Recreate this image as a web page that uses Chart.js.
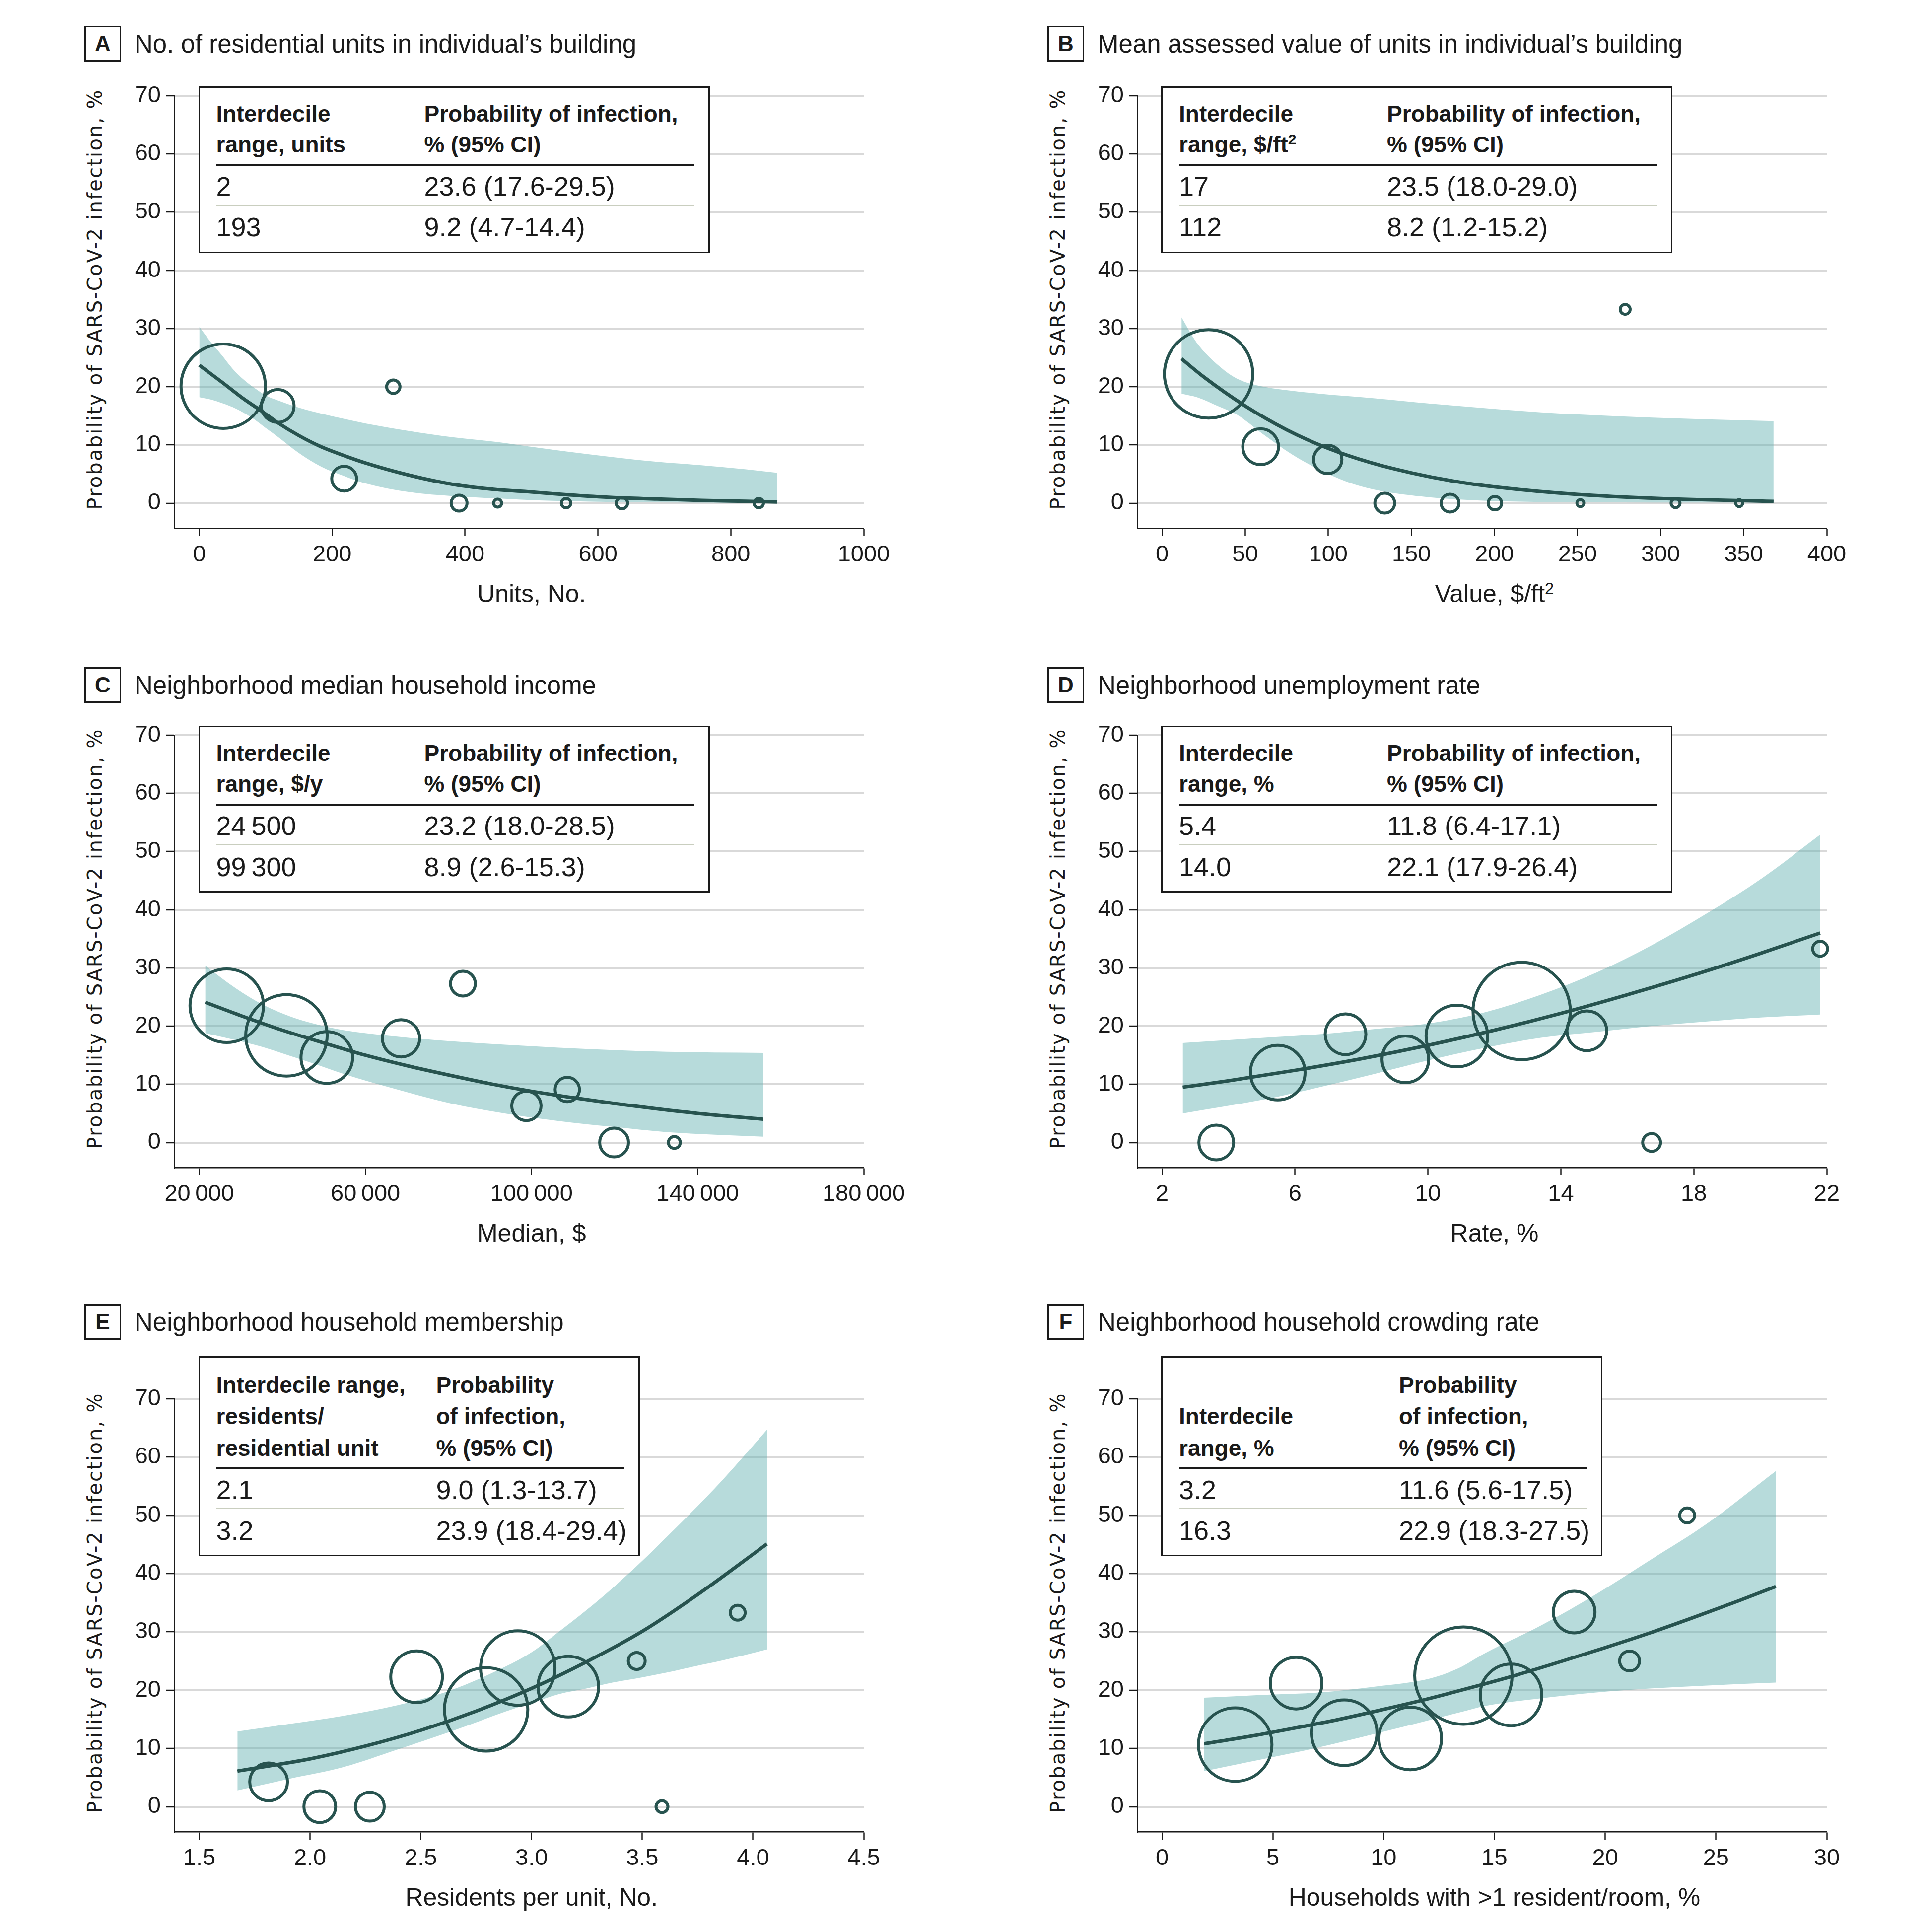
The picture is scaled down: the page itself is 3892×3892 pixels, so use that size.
<!DOCTYPE html>
<html>
<head>
<meta charset="utf-8">
<script src="https://cdn.jsdelivr.net/npm/chart.js@4.4.1/dist/chart.umd.min.js"></script>
<style>
html, body { margin: 0; padding: 0; background: #fff; }
#page { position: relative; width: 3892px; height: 3892px; overflow: hidden; background: #fff;
        font-family: 'Liberation Sans', Arial, sans-serif; color: #1a1a1a; }
canvas { position: absolute; }
.t { position: absolute; white-space: nowrap; }
.sup { font-size: 0.66em; position: relative; top: -0.5em; }
.tbl { position: absolute; box-sizing: border-box; border: 3px solid #1a1a1a; background: #fff; }
.box { position: absolute; box-sizing: border-box; border: 3px solid #1a1a1a; background: #fff;
       font-weight: bold; font-size: 44px; text-align: center; line-height: 66px; }
</style>
</head>
<body>
<div id="page"></div>
<script>
// ---- data ----

// A: residential units
const aTicks = [0, 200, 400, 600, 800, 1000];
const aBubX = [36, 118, 292, 218, 391, 449, 552, 636, 842];
const aBubY = [20.1, 16.7, 20.0, 4.2, 0, 0, 0, 0, 0];
const aBubR = [85, 33, 13.5, 25, 16, 8, 9.5, 11.5, 9.5];
const aFitX = [0, 34, 67, 94, 117, 150, 183, 217, 250, 316, 383, 449, 490, 557, 623, 689, 756, 823, 870];
const aFitY = [23.7, 20.8, 17.9, 15.8, 13.9, 11.6, 9.7, 8.2, 6.9, 4.8, 3.2, 2.3, 2.0, 1.4, 0.95, 0.7, 0.46, 0.31, 0.2];
const aBandX = [0, 17, 34, 50, 67, 84, 100, 117, 150, 183, 217, 250, 316, 383, 449, 505, 557, 623, 689, 756, 823, 870];
const aUpper = [30.3, 27.7, 25.4, 23.1, 21.2, 19.7, 18.5, 17.7, 16.4, 15.4, 14.5, 13.7, 12.4, 11.3, 10.5, 9.6, 8.8, 7.9, 7.1, 6.5, 5.8, 5.2];
const aLower = [18.2, 17.8, 17.2, 16.5, 15.5, 14.3, 12.9, 11.5, 8.6, 6.3, 4.7, 3.4, 1.9, 1.2, 0.8, 0.5, 0.35, 0.2, 0.12, 0.08, 0.04, 0.0];

// B: assessed value
const bTicks = [0, 50, 100, 150, 200, 250, 300, 350, 400];
const bBubX = [28, 59.3, 99.7, 134, 173.3, 200.3, 251.7, 278.7, 309, 347.3];
const bBubY = [22.2, 9.7, 7.5, 0, 0, 0, 0, 33.3, 0, 0];
const bBubR = [89, 36, 28.5, 20, 18, 13.5, 7, 10, 9, 7];
const bFitX = [11.7, 25, 50, 75, 100, 125, 150, 175, 200, 250, 300, 368];
const bFitY = [24.8, 21.7, 16.7, 12.6, 9.4, 7.0, 5.2, 3.8, 2.8, 1.5, 0.8, 0.3];
const bBandX = [11.7, 21, 35, 45, 61, 78, 95, 111, 128, 161, 195, 228, 261, 295, 328, 368];
const bUpper = [31.9, 27.5, 23.4, 21.4, 20.0, 19.3, 18.8, 18.4, 18.0, 17.1, 16.3, 15.6, 15.1, 14.7, 14.4, 14.1];
const bLower = [18.8, 18.2, 16.5, 15.2, 11.8, 8.4, 5.7, 3.7, 2.3, 1.0, 0.4, 0.2, 0.15, 0.1, 0.1, 0.1];

// C: median household income
const cTicks = [20000, 60000, 100000, 140000, 180000];
const cBubX = [26607, 40987, 50703, 68581, 83480, 98766, 108612, 119883, 134392];
const cBubY = [23.5, 18.4, 14.6, 17.9, 27.3, 6.3, 9.1, 0, 0];
const cBubR = [74, 82, 52, 37.5, 25, 29.5, 24.5, 29, 12];
const cFitX = [21425, 30000, 40000, 50000, 60000, 70000, 80000, 90000, 100000, 110000, 120000, 130000, 140000, 155768];
const cFitY = [24.1, 21.8, 19.3, 17.1, 15.0, 13.2, 11.6, 10.1, 8.8, 7.7, 6.7, 5.8, 5.0, 4.0];
const cBandX = [21425, 28800, 35300, 41760, 48240, 54720, 67670, 80630, 93580, 106540, 119490, 132450, 155768];
const cUpper = [30.4, 26.5, 23.7, 21.7, 20.3, 19.3, 18.2, 17.4, 16.8, 16.3, 15.9, 15.6, 15.4];
const cLower = [18.8, 17.6, 16.4, 14.9, 13.4, 11.8, 9.1, 6.7, 5.0, 3.7, 2.7, 1.8, 1.0];

// D: unemployment rate
const dTicks = [2, 6, 10, 14, 18, 22];
const dBubX = [3.63, 5.48, 7.52, 9.32, 10.87, 12.82, 14.78, 16.73, 21.8];
const dBubY = [0, 12.0, 18.6, 14.3, 18.3, 22.6, 19.2, 0, 33.3];
const dBubR = [35, 55, 41, 47, 62, 98, 40, 18, 15];
const dFitX = [2.62, 4, 6, 8, 10, 12, 14, 16, 18, 20, 21.8];
const dFitY = [9.5, 10.6, 12.4, 14.4, 16.7, 19.3, 22.2, 25.4, 28.8, 32.5, 36.0];
const dBandX = [2.62, 5.07, 6.73, 8.4, 10.07, 11.73, 13.4, 15.07, 16.73, 18.4, 20.07, 21.8];
const dUpper = [17.1, 18.0, 18.6, 19.5, 20.5, 22.4, 25.4, 29.2, 33.9, 39.4, 45.5, 52.9];
const dLower = [5.0, 7.4, 9.5, 11.8, 14.2, 16.3, 18.0, 19.0, 20.0, 20.8, 21.5, 22.0];

// E: household membership
const eTicks = [1.5, 2.0, 2.5, 3.0, 3.5, 4.0, 4.5];
const eBubX = [1.813, 2.044, 2.27, 2.481, 2.795, 2.938, 3.166, 3.475, 3.589, 3.931];
const eBubY = [4.25, 0, 0, 22.3, 16.7, 23.8, 20.6, 25.0, 0, 33.3];
const eBubR = [38, 32, 29, 52, 84, 75, 61, 17, 12, 15];
const eFitX = [1.672, 1.8, 2.0, 2.25, 2.5, 2.75, 3.0, 3.25, 3.5, 3.75, 4.063];
const eFitY = [6.1, 6.9, 8.2, 10.4, 13.1, 16.4, 20.3, 24.9, 30.1, 36.4, 45.1];
const eBandX = [1.672, 1.908, 2.151, 2.394, 2.637, 2.88, 3.0, 3.122, 3.25, 3.365, 3.5, 3.608, 3.75, 3.851, 4.063];
const eUpper = [12.9, 14.2, 15.6, 17.4, 20.0, 24.0, 26.5, 30.0, 33.8, 37.5, 42.2, 46.2, 51.6, 55.6, 64.7];
const eLower = [2.8, 4.8, 6.8, 9.8, 12.9, 16.3, 17.8, 19.3, 20.3, 21.3, 22.2, 23.0, 24.2, 25.0, 27.0];

// F: household crowding rate
const fTicks = [0, 5, 10, 15, 20, 25, 30];
const fBubX = [3.3, 6.05, 8.22, 11.2, 13.6, 15.75, 18.6, 21.1, 23.7];
const fBubY = [10.65, 21.2, 12.7, 11.7, 22.5, 19.2, 33.4, 25.0, 50.0];
const fBubR = [74, 52, 66, 63, 98, 62, 42, 20, 15];
const fFitX = [1.9, 4, 6, 8, 10, 12, 14, 16, 18, 20, 22, 24, 26, 27.7];
const fFitY = [10.8, 12.1, 13.5, 15.0, 16.7, 18.5, 20.5, 22.6, 24.9, 27.3, 29.8, 32.5, 35.3, 37.8];
const fBandX = [1.9, 4.6, 7.1, 9.6, 12.1, 13.35, 14.6, 17.1, 19.6, 22.1, 24.6, 27.7];
const fUpper = [18.7, 19.2, 19.6, 20.6, 22.0, 23.7, 26.4, 31.1, 36.5, 42.5, 48.6, 57.6];
const fLower = [6.1, 8.2, 10.2, 12.5, 14.9, 16.1, 17.3, 18.6, 19.6, 20.3, 20.8, 21.3];

const yTicks = [0, 10, 20, 30, 40, 50, 60, 70];

// ---- look ----
const TEAL = '#27534f';
const BAND = 'rgba(96, 176, 176, 0.45)';
const GRID = '#d9d9d9';
const AXIS = '#1a1a1a';
const TEXT = '#1a1a1a';

// page geometry (px in the 3892 frame)
const COLS = [
    { axis: 351, first: 401.5, last: 1740, shift: 0 },
    { axis: 2291, first: 2341, last: 3680, shift: 1940 }
];
const ROWS = [
    { top: 193, zero: 1013.5, bottom: 1064, titleTop: 52, tableTop: 173.5, tall: false },
    { top: 1481, zero: 2301.5, bottom: 2352, titleTop: 1344, tableTop: 1462, tall: false },
    { top: 2818, zero: 3639.5, bottom: 3690, titleTop: 2627, tableTop: 2732, tall: true }
];
const Y_W = 200, X_H = 130, PAD_T = 60, PAD_R = 130;

const page = document.getElementById('page');
Chart.defaults.font.family = "'Liberation Sans', Arial, sans-serif";
Chart.defaults.color = TEXT;

const thin = v => String(v).replace(/\B(?=(\d{3})+(?!\d))/g, '\u2009');

const panels = [
    { letter: 'A', col: 0, row: 0, title: 'No. of residential units in individual\u2019s building',
      xTitle: 'Units, No.', ticks: aTicks, fmt: v => String(v),
      bx: aBubX, by: aBubY, br: aBubR, fx: aFitX, fy: aFitY, bandX: aBandX, up: aUpper, lo: aLower,
      head: [['Interdecile', 'range, units'], ['Probability of infection,', '% (95% CI)']],
      rows: [['2', '23.6 (17.6-29.5)'], ['193', '9.2 (4.7-14.4)']] },
    { letter: 'B', col: 1, row: 0, title: 'Mean assessed value of units in individual\u2019s building',
      xTitle: 'Value, $/ft<span class="sup">2</span>', ticks: bTicks, fmt: v => String(v),
      bx: bBubX, by: bBubY, br: bBubR, fx: bFitX, fy: bFitY, bandX: bBandX, up: bUpper, lo: bLower,
      head: [['Interdecile', 'range, $/ft<span class="sup">2</span>'], ['Probability of infection,', '% (95% CI)']],
      rows: [['17', '23.5 (18.0-29.0)'], ['112', '8.2 (1.2-15.2)']] },
    { letter: 'C', col: 0, row: 1, title: 'Neighborhood median household income',
      xTitle: 'Median, $', ticks: cTicks, fmt: thin,
      bx: cBubX, by: cBubY, br: cBubR, fx: cFitX, fy: cFitY, bandX: cBandX, up: cUpper, lo: cLower,
      head: [['Interdecile', 'range, $/y'], ['Probability of infection,', '% (95% CI)']],
      rows: [['24\u2009500', '23.2 (18.0-28.5)'], ['99\u2009300', '8.9 (2.6-15.3)']] },
    { letter: 'D', col: 1, row: 1, title: 'Neighborhood unemployment rate',
      xTitle: 'Rate, %', ticks: dTicks, fmt: v => String(v),
      bx: dBubX, by: dBubY, br: dBubR, fx: dFitX, fy: dFitY, bandX: dBandX, up: dUpper, lo: dLower,
      head: [['Interdecile', 'range, %'], ['Probability of infection,', '% (95% CI)']],
      rows: [['5.4', '11.8 (6.4-17.1)'], ['14.0', '22.1 (17.9-26.4)']] },
    { letter: 'E', col: 0, row: 2, title: 'Neighborhood household membership',
      xTitle: 'Residents per unit, No.', ticks: eTicks, fmt: v => Number(v).toFixed(1),
      bx: eBubX, by: eBubY, br: eBubR, fx: eFitX, fy: eFitY, bandX: eBandX, up: eUpper, lo: eLower,
      head: [['Interdecile range,', 'residents/', 'residential unit'], ['Probability', 'of infection,', '% (95% CI)']],
      rows: [['2.1', '9.0 (1.3-13.7)'], ['3.2', '23.9 (18.4-29.4)']] },
    { letter: 'F', col: 1, row: 2, title: 'Neighborhood household crowding rate',
      xTitle: 'Households with &gt;1 resident/room, %', ticks: fTicks, fmt: v => String(v),
      bx: fBubX, by: fBubY, br: fBubR, fx: fFitX, fy: fFitY, bandX: fBandX, up: fUpper, lo: fLower,
      head: [['', 'Interdecile', 'range, %'], ['Probability', 'of infection,', '% (95% CI)']],
      rows: [['3.2', '11.6 (5.6-17.5)'], ['16.3', '22.9 (18.3-27.5)']] }
];

// text placed by its baseline (Liberation / DejaVu: baseline ~0.846em below top at line-height 1)
function txt(parent, html, x, baseline, size, extra) {
    const d = document.createElement('div');
    d.className = 't';
    d.innerHTML = html;
    d.style.left = x + 'px';
    d.style.top = (baseline - 0.846 * size) + 'px';
    d.style.fontSize = size + 'px';
    d.style.lineHeight = size + 'px';
    if (extra) Object.assign(d.style, extra);
    parent.appendChild(d);
    return d;
}

function drawTable(p, col, row) {
    const tall = row.tall;
    const w = tall ? 889 : 1030;
    const h = tall ? 403 : 336;
    const c2 = tall ? 477 : 453;
    const ruleW = tall ? 821 : 963;
    const headBase = tall ? [73.5, 137, 200.5] : [71, 133];
    const ruleY = tall ? 225.5 : 159;
    const sepY = tall ? 307 : 239;
    const rowBase = tall ? [288, 370] : [220, 302.5];

    const box = document.createElement('div');
    box.className = 'tbl';
    box.style.left = (col.first - 2) + 'px';
    box.style.top = row.tableTop + 'px';
    box.style.width = w + 'px';
    box.style.height = h + 'px';
    page.appendChild(box);
    const b = 3; // border offset
    p.head[0].forEach((s, i) => { if (s) txt(box, s, 36 - b, headBase[i] - b, 46, { fontWeight: 'bold' }); });
    p.head[1].forEach((s, i) => txt(box, s, c2 + 2 - b, headBase[i] - b, 46, { fontWeight: 'bold' }));
    const rule = document.createElement('div');
    Object.assign(rule.style, { position: 'absolute', left: (36 - b) + 'px', top: (ruleY - 2 - b) + 'px',
        width: ruleW + 'px', height: '4px', background: '#1a1a1a' });
    box.appendChild(rule);
    const sep = document.createElement('div');
    Object.assign(sep.style, { position: 'absolute', left: (36 - b) + 'px', top: (sepY - 1 - b) + 'px',
        width: ruleW + 'px', height: '2px', background: '#c9cebf' });
    box.appendChild(sep);
    p.rows.forEach((r, i) => {
        txt(box, r[0], 36 - b, rowBase[i] - b, 54);
        txt(box, r[1], c2 + 2 - b, rowBase[i] - b, 54);
    });
}

function drawPanel(p) {
    const col = COLS[p.col], row = ROWS[p.row];

    // panel heading
    const lb = document.createElement('div');
    lb.className = 'box';
    lb.textContent = p.letter;
    Object.assign(lb.style, { left: (170 + col.shift) + 'px', top: row.titleTop + 'px', width: '74px', height: '72px' });
    page.appendChild(lb);
    txt(page, p.title, 271 + col.shift, row.titleTop + 54, 51);

    // axis titles
    const yt = txt(page, 'Probability of SARS-CoV-2 infection, %', 191 + col.shift, 0, 40, {
        fontFamily: "'DejaVu Sans', sans-serif", letterSpacing: '2.2px'
    });
    yt.style.top = ((row.top + row.zero) / 2) + 'px';
    yt.style.transform = 'translate(-50%, -50%) rotate(-90deg)';

    const xt = txt(page, p.xTitle, (col.first + col.last) / 2, row.zero + 200, 50);
    xt.style.transform = 'translateX(-50%)';

    // chart canvas: chart area == plot frame
    const plotW = col.last - col.axis;
    const plotH = row.bottom - row.top;
    const W = Y_W + plotW + PAD_R, H = PAD_T + plotH + X_H;
    const cv = document.createElement('canvas');
    cv.width = W; cv.height = H;
    Object.assign(cv.style, { left: (col.axis - Y_W) + 'px', top: (row.top - PAD_T) + 'px', width: W + 'px', height: H + 'px' });
    page.appendChild(cv);

    const t0 = p.ticks[0], t1 = p.ticks[p.ticks.length - 1];
    const xMin = t0 - (col.first - col.axis) / (col.last - col.first) * (t1 - t0);
    const yMin = -70 * (row.bottom - row.zero) / (row.zero - row.top);

    new Chart(cv, {
        type: 'line',
        data: {
            datasets: [
                {
                    type: 'bubble',
                    data: p.bx.map((x, i) => ({ x: x, y: p.by[i], r: p.br[i] })),
                    borderColor: TEAL,
                    backgroundColor: 'rgba(0,0,0,0)',
                    borderWidth: 6,
                    hoverBorderWidth: 6,
                    clip: false
                },
                {
                    data: p.fx.map((x, i) => ({ x: x, y: p.fy[i] })),
                    borderColor: TEAL,
                    borderWidth: 7,
                    pointRadius: 0,
                    fill: false,
                    cubicInterpolationMode: 'monotone'
                },
                {
                    data: p.bandX.map((x, i) => ({ x: x, y: p.up[i] })),
                    borderColor: 'rgba(0,0,0,0)',
                    borderWidth: 0,
                    pointRadius: 0,
                    backgroundColor: BAND,
                    fill: '+1',
                    cubicInterpolationMode: 'monotone'
                },
                {
                    data: p.bandX.map((x, i) => ({ x: x, y: p.lo[i] })),
                    borderColor: 'rgba(0,0,0,0)',
                    borderWidth: 0,
                    pointRadius: 0,
                    fill: false,
                    cubicInterpolationMode: 'monotone'
                }
            ]
        },
        options: {
            responsive: false,
            animation: false,
            events: [],
            layout: { autoPadding: false, padding: { top: PAD_T, right: PAD_R, left: 0, bottom: 0 } },
            plugins: { legend: { display: false }, tooltip: { enabled: false } },
            scales: {
                x: {
                    type: 'linear',
                    min: xMin,
                    max: t1,
                    afterFit: s => { s.height = X_H; },
                    afterBuildTicks: s => { s.ticks = p.ticks.map(v => ({ value: v })); },
                    grid: { drawOnChartArea: false, drawTicks: true, tickLength: 16, tickColor: AXIS, tickWidth: 2.5 },
                    border: { display: true, color: AXIS, width: 2.5 },
                    ticks: { autoSkip: false, maxRotation: 0, padding: 10, color: TEXT, font: { size: 47 },
                             callback: v => p.fmt(v) }
                },
                y: {
                    type: 'linear',
                    min: yMin,
                    max: 70,
                    afterFit: s => { s.width = Y_W; },
                    afterBuildTicks: s => { s.ticks = yTicks.map(v => ({ value: v })); },
                    grid: { color: GRID, lineWidth: 4, tickLength: 16, tickColor: AXIS, tickWidth: 2.5 },
                    border: { display: true, color: AXIS, width: 2.5 },
                    ticks: { padding: 11, color: TEXT, font: { size: 47 }, callback: v => String(v) }
                }
            }
        }
    });

    drawTable(p, col, row);
}

panels.forEach(drawPanel);
</script>
</body>
</html>
